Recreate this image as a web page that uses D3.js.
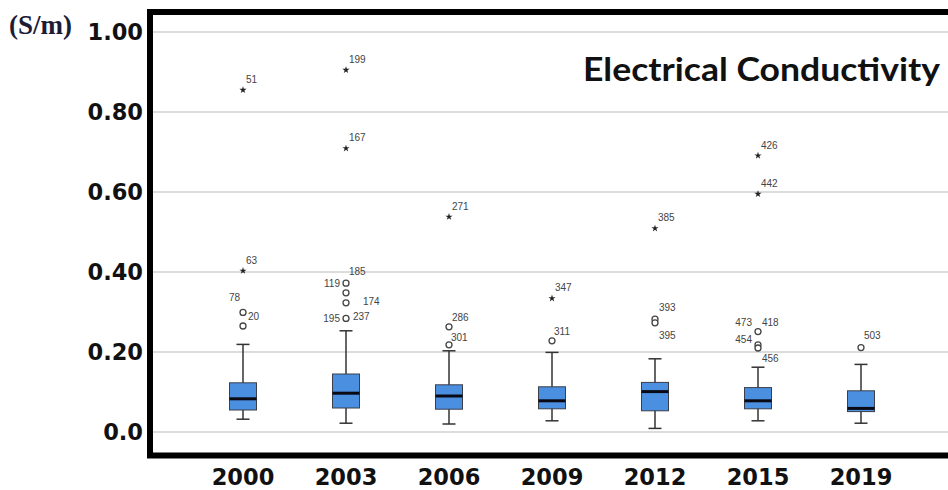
<!DOCTYPE html>
<html>
<head>
<meta charset="utf-8">
<title>Electrical Conductivity boxplot</title>
<script src="https://d3js.org/d3.v7.min.js"></script>
<style>
  body { margin: 0; background: #fff; }
  svg { display: block; }
</style>
</head>
<body>
<div id="chart"></div>
<script>
// years on the x axis
var years = ["2000", "2003", "2006", "2009", "2012", "2015", "2019"];

// box statistics, one value per year (S/m)
var whiskerLow  = [0.032, 0.022, 0.020, 0.028, 0.009, 0.028, 0.022];
var q1          = [0.055, 0.060, 0.057, 0.058, 0.053, 0.058, 0.051];
var medians     = [0.083, 0.097, 0.090, 0.078, 0.101, 0.078, 0.059];
var q3          = [0.123, 0.145, 0.118, 0.113, 0.124, 0.111, 0.103];
var whiskerHigh = [0.219, 0.253, 0.203, 0.199, 0.183, 0.162, 0.169];

// mild outliers (circles): year, value, case label
var circleYears  = ["2000", "2000", "2003", "2003", "2003", "2003", "2006", "2006", "2009", "2012", "2012", "2015", "2015", "2015", "2019"];
var circleValues = [0.299, 0.265, 0.372, 0.348, 0.323, 0.284, 0.263, 0.218, 0.228, 0.282, 0.273, 0.251, 0.218, 0.210, 0.211];
var circleLabels = [["78", "20"], [], ["119", "185"], [], ["174"], ["195", "237"], ["286"], ["301"], ["311"], ["393"], ["395"], ["473", "418"], ["454"], ["456"], ["503"]];

// extreme outliers (stars)
var starYears  = ["2000", "2000", "2003", "2003", "2006", "2009", "2012", "2015", "2015"];
var starValues = [0.855, 0.403, 0.905, 0.709, 0.538, 0.334, 0.509, 0.691, 0.595];
var starLabels = ["51", "63", "199", "167", "271", "347", "385", "426", "442"];

// y ticks
var yTicks = [0, 0.2, 0.4, 0.6, 0.8, 1.0];
var yTickLabels = ["0.0", "0.20", "0.40", "0.60", "0.80", "1.00"];

// label placement relative to its point: [dx, dy, anchor]
var labelPos = {
  "78": [-3, -11, "end"], "20": [5, 8, "start"],
  "119": [-6, 4, "end"], "185": [3, -8, "start"], "174": [17, 2, "start"],
  "195": [-6, 4, "end"], "237": [7, 2, "start"],
  "286": [3, -6, "start"], "301": [2, -4, "start"],
  "311": [2, -6, "start"], "393": [4, -8, "start"], "395": [4, 16, "start"],
  "473": [-6, -6, "end"], "418": [4, -6, "start"], "454": [-6, -2, "end"], "456": [4, 14, "start"],
  "503": [3, -9, "start"]
};

var width = 948, height = 490;

var svg = d3.select("#chart").append("svg")
  .attr("width", width)
  .attr("height", height);

var x = d3.scalePoint().domain(years).range([191.5, 912.5]).padding(0.5);
var y = d3.scaleLinear().domain([0, 1]).range([432, 32]);

var boxW = 27, capW = 13;

// gridlines
svg.selectAll("line.grid")
  .data(yTicks)
  .enter().append("line")
  .attr("class", "grid")
  .attr("x1", 150).attr("x2", width)
  .attr("y1", d => y(d)).attr("y2", d => y(d))
  .attr("stroke", "#dcdcdc")
  .attr("stroke-width", 2);

// y tick labels
svg.selectAll("text.ytick")
  .data(yTicks)
  .enter().append("text")
  .attr("class", "ytick")
  .attr("x", 143)
  .attr("y", d => y(d))
  .attr("dy", "0.36em")
  .attr("text-anchor", "end")
  .attr("font-family", "DejaVu Sans")
  .attr("font-weight", "bold")
  .attr("font-size", "22.5px")
  .attr("fill", "#111")
  .text((d, i) => yTickLabels[i]);

// unit
svg.append("text")
  .attr("x", 9).attr("y", 34)
  .attr("font-family", "Liberation Serif")
  .attr("font-weight", "bold")
  .attr("font-size", "27px")
  .attr("fill", "#1c1c36")
  .text("(S/m)");

// x labels
svg.selectAll("text.xtick")
  .data(years)
  .enter().append("text")
  .attr("class", "xtick")
  .attr("x", d => x(d))
  .attr("y", 485)
  .attr("text-anchor", "middle")
  .attr("font-family", "DejaVu Sans")
  .attr("font-weight", "bold")
  .attr("font-size", "22.5px")
  .attr("fill", "#111")
  .text(d => d);

// boxes
var boxes = years.map((yr, i) => ({
  year: yr, lo: whiskerLow[i], q1: q1[i], med: medians[i], q3: q3[i], hi: whiskerHigh[i]
}));

var g = svg.selectAll("g.box").data(boxes).enter().append("g").attr("class", "box");

g.append("line")
  .attr("x1", d => x(d.year)).attr("x2", d => x(d.year))
  .attr("y1", d => y(d.hi)).attr("y2", d => y(d.lo))
  .attr("stroke", "#333").attr("stroke-width", 1.5);

g.selectAll("line.cap")
  .data(d => [d.lo, d.hi].map(v => ({ year: d.year, v: v })))
  .enter().append("line")
  .attr("class", "cap")
  .attr("x1", d => x(d.year) - capW / 2).attr("x2", d => x(d.year) + capW / 2)
  .attr("y1", d => y(d.v)).attr("y2", d => y(d.v))
  .attr("stroke", "#333").attr("stroke-width", 1.5);

g.append("rect")
  .attr("x", d => x(d.year) - boxW / 2)
  .attr("width", boxW)
  .attr("y", d => y(d.q3))
  .attr("height", d => y(d.q1) - y(d.q3))
  .attr("fill", "#4a8fe0")
  .attr("stroke", "#3a3f4a")
  .attr("stroke-width", 1);

g.append("line")
  .attr("x1", d => x(d.year) - boxW / 2).attr("x2", d => x(d.year) + boxW / 2)
  .attr("y1", d => y(d.med)).attr("y2", d => y(d.med))
  .attr("stroke", "#0a0a14").attr("stroke-width", 3);

// outlier circles
var circles = circleYears.map((yr, i) => ({ year: yr, v: circleValues[i], labels: circleLabels[i] }));
svg.selectAll("circle.out")
  .data(circles)
  .enter().append("circle")
  .attr("class", "out")
  .attr("cx", d => x(d.year))
  .attr("cy", d => y(d.v))
  .attr("r", 3)
  .attr("fill", "#fff")
  .attr("stroke", "#444")
  .attr("stroke-width", 1.3);

// star outliers
var stars = starYears.map((yr, i) => ({ year: yr, v: starValues[i], labels: [starLabels[i]] }));
svg.selectAll("path.star")
  .data(stars)
  .enter().append("path")
  .attr("class", "star")
  .attr("transform", d => "translate(" + x(d.year) + "," + y(d.v) + ")")
  .attr("d", d3.symbol().type(d3.symbolStar).size(16))
  .attr("fill", "#222");

// case labels
var labelData = [];
circles.concat(stars).forEach(d => {
  d.labels.forEach(l => labelData.push({ year: d.year, v: d.v, text: l }));
});
svg.selectAll("text.case")
  .data(labelData)
  .enter().append("text")
  .attr("class", "case")
  .attr("x", d => x(d.year) + (labelPos[d.text] ? labelPos[d.text][0] : 3))
  .attr("y", d => y(d.v) + (labelPos[d.text] ? labelPos[d.text][1] : -7))
  .attr("text-anchor", d => labelPos[d.text] ? labelPos[d.text][2] : "start")
  .attr("font-family", "Liberation Sans")
  .attr("font-size", "10px")
  .attr("fill", "#444")
  .text(d => d.text);

// frame (left, top, bottom; right side runs off the picture)
svg.append("path")
  .attr("d", "M" + width + ",12H150V455.5H" + width)
  .attr("fill", "none")
  .attr("stroke", "#000")
  .attr("stroke-width", 6);

// title
svg.append("text")
  .attr("x", 940).attr("y", 81)
  .attr("text-anchor", "end")
  .attr("font-family", "Lato")
  .attr("font-weight", "bold")
  .attr("font-size", "33px")
  .attr("fill", "#111")
  .attr("textLength", 357)
  .attr("lengthAdjust", "spacingAndGlyphs")
  .text("Electrical Conductivity");
</script>
</body>
</html>
